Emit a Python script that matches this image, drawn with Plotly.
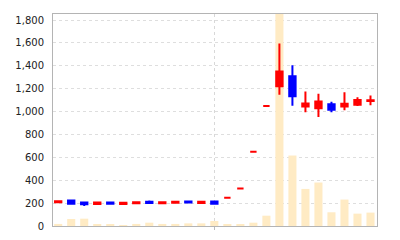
import plotly.graph_objects as go

idx = list(range(25))
opens  = [207, 222, 205, 192, 205, 193, 198, 212, 198, 203, 215, 200, 215, 248, 328, 648, 1048, 1221, 1309, 1045, 1030, 1065, 1045, 1060, 1092]
highs  = [219, 225, 208, 208, 208, 207, 212, 222, 212, 217, 219, 216, 218, 248, 328, 648, 1048, 1595, 1405, 1175, 1155, 1085, 1170, 1125, 1140]
lows   = [205, 192, 175, 188, 190, 188, 195, 195, 192, 200, 200, 195, 192, 248, 328, 648, 1048, 1148, 1050, 995, 953, 995, 1012, 1048, 1055]
closes = [216, 195, 190, 205, 195, 203, 208, 200, 208, 213, 205, 212, 195, 248, 328, 648, 1048, 1350, 1133, 1070, 1088, 1015, 1068, 1102, 1100]
volume = [18, 61, 64, 15, 15, 6, 18, 29, 18, 18, 23, 23, 44, 15, 9, 29, 90, 2100, 616, 324, 380, 120, 231, 108, 117]
price_ticks = [0, 200, 400, 600, 800, 1000, 1200, 1400, 1600, 1800]
marker_idx = [12]

fig = go.Figure()
fig.add_trace(go.Bar(
    x=idx, y=volume, yaxis="y", width=0.62,
    marker=dict(color="#FFEBC4", line=dict(width=0)),
    hoverinfo="skip", showlegend=False,
))
fig.add_trace(go.Candlestick(
    x=idx, open=opens, high=highs, low=lows, close=closes, yaxis="y2",
    increasing=dict(line=dict(color="#FF0000", width=2), fillcolor="#FF0000"),
    decreasing=dict(line=dict(color="#0000FF", width=2), fillcolor="#0000FF"),
    whiskerwidth=0, showlegend=False,
))

fig.update_layout(
    width=400, height=240,
    margin=dict(l=53, r=23, t=14, b=14, autoexpand=False),
    paper_bgcolor="white", plot_bgcolor="white",
    font=dict(family="DejaVu Sans", size=10, color="#222222"),
    showlegend=False,
    xaxis=dict(
        range=[-0.4, 24.5], rangeslider=dict(visible=False),
        tickvals=marker_idx, showticklabels=False, automargin=False,
        ticks="outside", ticklen=3, tickcolor="#bbbbbb",
        showgrid=True, gridcolor="#d8d8d8", griddash="3px,3px", gridwidth=1,
        showline=True, linecolor="#b4b4b4", linewidth=1, mirror=True,
        zeroline=False,
    ),
    yaxis=dict(
        range=[0, 1853], showticklabels=False, showgrid=False, automargin=False,
        zeroline=False, ticks="", fixedrange=True,
        showline=True, linecolor="#b4b4b4", mirror=True,
    ),
    yaxis2=dict(
        overlaying="y", side="left", range=[0, 1853], automargin=False,
        tickvals=price_ticks, tickformat=",d",
        ticks="outside", ticklen=6, tickcolor="rgba(0,0,0,0)",
        showgrid=True, gridcolor="#dedede", griddash="3px,3px", gridwidth=1,
        zeroline=False, showline=False,
    ),
)

fig.write_html("out.html")
